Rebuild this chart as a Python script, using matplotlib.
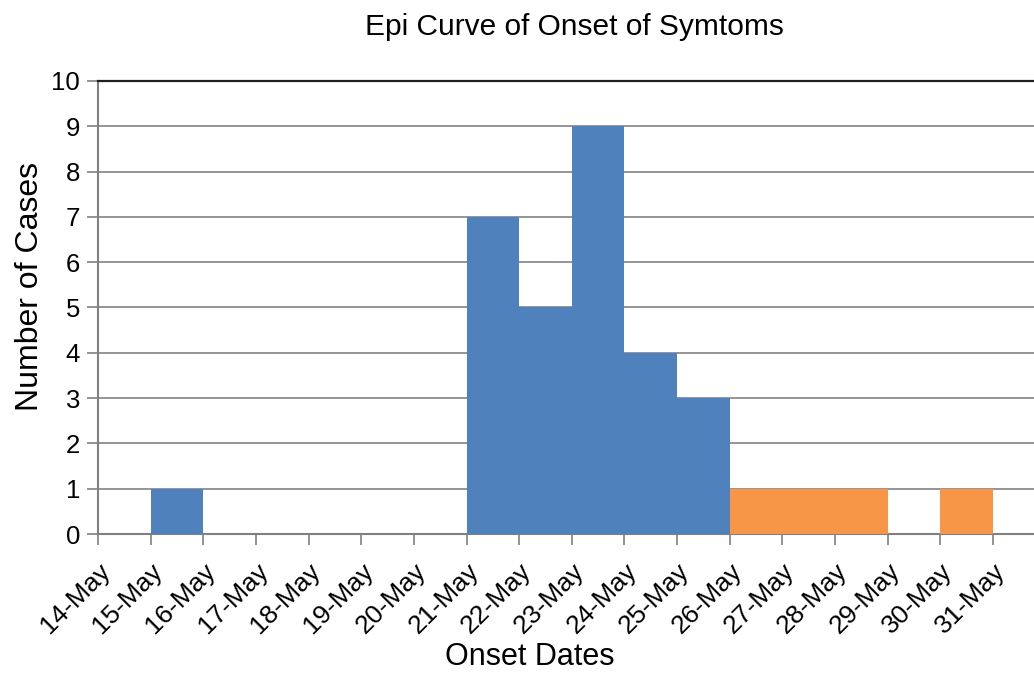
import numpy as np
import matplotlib.pyplot as plt

plt.rcParams['font.family'] = ['Liberation Sans', 'DejaVu Sans']

# day of May for each tick label
days = list(range(14, 32))
tick_labels = ['{}-May'.format(d) for d in days]

# cases by onset day (bar starts at that day)
blue_days = [15, 21, 22, 23, 24, 25]
blue_cases = [1, 7, 5, 9, 4, 3]
orange_days = [26, 27, 28, 30]
orange_cases = [1, 1, 1, 1]

fig = plt.figure(figsize=(10.34, 6.73), dpi=100)
ax = fig.add_axes([98/1034, 1 - 534/673, 1 - 98/1034, (534 - 81)/673])

ax.bar(blue_days, blue_cases, width=1, align='edge', color='#4f81bd', zorder=3)
ax.bar(orange_days, orange_cases, width=1, align='edge', color='#f79646', zorder=3)

ax.set_xlim(14, 31.78)
ax.set_ylim(0, 10)
ax.set_yticks(range(0, 11))
ax.set_xticks(days)
ax.set_xticklabels(tick_labels, rotation=45, ha='right', va='top',
                   rotation_mode='anchor', fontsize=19)
ax.tick_params(axis='y', labelsize=18.5, length=8, width=1.2, color='#808080', pad=5)
ax.tick_params(axis='x', length=8, width=1.2, color='#808080', pad=10)

ax.grid(axis='y', color='#8c8c8c', linewidth=1.3, zorder=0)
ax.set_axisbelow(True)
ax.spines['right'].set_visible(False)
ax.spines['top'].set_color('#202020')
ax.spines['top'].set_linewidth(1.6)
ax.spines['left'].set_color('#808080')
ax.spines['left'].set_linewidth(1.5)
ax.spines['bottom'].set_color('#808080')
ax.spines['bottom'].set_linewidth(1.5)

ax.set_ylabel('Number of Cases', fontsize=23, va='center')
ax.yaxis.set_label_coords((30 - 98) / (1034 - 98), (534 - 287) / (534 - 81))
ax.set_xlabel('Onset Dates', fontsize=22, va='center')
ax.xaxis.set_label_coords((530 - 98) / (1034 - 98), -(657 - 534) / (534 - 81))
fig.text(574/1034, 1 - 27/673, 'Epi Curve of Onset of Symtoms', fontsize=21.5,
         ha='center', va='center')

fig.savefig('out.png', dpi=100)
